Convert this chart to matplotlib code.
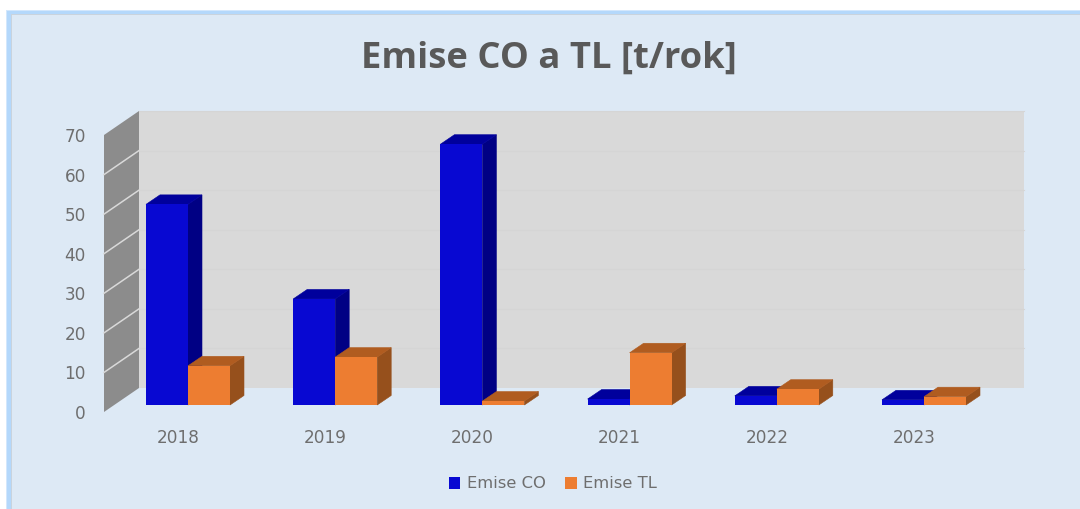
import matplotlib
matplotlib.use("Agg")
import matplotlib.pyplot as plt
from matplotlib.patches import Polygon, Rectangle

years = ["2018", "2019", "2020", "2021", "2022", "2023"]
emise_co = [50.7, 26.8, 65.9, 1.5, 2.3, 1.3]
emise_tl = [9.9, 12.1, 1.0, 13.2, 4.0, 2.1]
y_ticks = [0, 10, 20, 30, 40, 50, 60, 70]
title = "Emise CO a TL [t/rok]"

W, H = 1080, 509
fig = plt.figure(figsize=(W / 100, H / 100), dpi=100, facecolor="white")
plt.rcParams["font.family"] = "DejaVu Sans"

TEXT = "#6E6E6E"
PANEL = "#DDE9F5"


def fr(x0, y0, x1, y1, z, **kw):
    fig.add_artist(Rectangle((x0 / W, 1 - y1 / H), (x1 - x0) / W, (y1 - y0) / H,
                             transform=fig.transFigure, linewidth=0, zorder=z, **kw))


# outer glow, grey edge and panel
fr(6, 10, W, H, -4, facecolor="#D3E7FC")
fr(7, 11, W, H, -3, facecolor="#B4D8FB")
fr(11, 14, W, H, -2, facecolor="#C9D3DD")
fr(12, 15, W, H, -1, facecolor=PANEL)

# axes = front plane of the wall: px 104..1024 wide, y=0 at px 412, y=70 at px 135
ax = fig.add_axes([104 / W, 1 - 412 / H, (1024 - 104) / W, (412 - 135) / H])
ax.patch.set_visible(False)
for s in ax.spines.values():
    s.set_visible(False)

pitch = 147.2
ax.set_xlim((104 - 178) / pitch, (1024 - 178) / pitch)
ax.set_ylim(0, 70)
px_x = 1 / pitch
px_y = 70 / (412 - 135)

x_left, x_right = ax.get_xlim()
wall_dx, wall_dy = 35 * px_x, 24 * px_y
bar_dx, bar_dy = 14 * px_x, 9.5 * px_y
floor = 7 * px_y
shift = 10 * px_x
width = 42 * px_x

# back wall and side wall
ax.add_patch(Polygon([(x_left + wall_dx, wall_dy), (x_right, wall_dy),
                      (x_right, 70 + wall_dy), (x_left + wall_dx, 70 + wall_dy)],
                     closed=True, facecolor="#D9D9D9", edgecolor="none", zorder=1, clip_on=False))
ax.add_patch(Polygon([(x_left, 0), (x_left + wall_dx, wall_dy),
                      (x_left + wall_dx, 70 + wall_dy), (x_left, 70)],
                     closed=True, facecolor="#8C8C8C", edgecolor="none",
                     zorder=2, clip_on=False))
for v in y_ticks[1:]:
    ax.plot([x_left + wall_dx, x_right], [v + wall_dy] * 2, color="#D5D5D5", lw=0.8,
            zorder=1.5, clip_on=False)
    if v < 70:
        ax.plot([x_left, x_left + wall_dx], [v, v + wall_dy], color="#D9D9D9", lw=1.1,
                zorder=2.5, clip_on=False)


def bars3d(centres, values, front, top, side, label, z):
    lefts = [c - width / 2 for c in centres]
    for l, v in zip(lefts, values):
        t = floor + v
        r = l + width
        ax.add_patch(Polygon([(r, floor), (r + bar_dx, floor + bar_dy),
                              (r + bar_dx, t + bar_dy), (r, t)],
                             closed=True, facecolor=side, edgecolor=side, linewidth=0.4,
                             zorder=z, clip_on=False))
        ax.add_patch(Polygon([(l, t), (r, t), (r + bar_dx, t + bar_dy), (l + bar_dx, t + bar_dy)],
                             closed=True, facecolor=top, edgecolor=top, linewidth=0.4,
                             zorder=z, clip_on=False))
    return ax.bar(centres, values, width=width, bottom=floor, color=front, label=label,
                  zorder=z + 0.1, clip_on=False)


idx = list(range(len(years)))
co_x = [i + shift - width / 2 for i in idx]
tl_x = [i + shift + width / 2 for i in idx]
bars3d(co_x, emise_co, "#0808D2", "#00009C", "#000084", "Emise CO", 3)
bars3d(tl_x, emise_tl, "#ED7D31", "#B05C20", "#96501C", "Emise TL", 4)

ax.set_xticks(idx, years)
ax.set_yticks(y_ticks)
ax.tick_params(axis="x", length=0, pad=12.5, labelsize=12.2, labelcolor=TEXT)
ax.tick_params(axis="y", length=0, pad=13, labelsize=12.2, labelcolor=TEXT)

fig.text(549 / W, 1 - 59 / H, title, ha="center", va="center", family="Open Sans",
         fontsize=26.2, fontweight="bold", color="#595959")

ax.legend(loc="center", bbox_to_anchor=(553 / W, 1 - 484 / H), bbox_transform=fig.transFigure,
          ncol=2, frameon=False, fontsize=11.8, labelcolor=TEXT, handlelength=0.7,
          handleheight=0.7, handletextpad=0.4, columnspacing=1.2)

fig.savefig("out.png", dpi=100, facecolor="white")
